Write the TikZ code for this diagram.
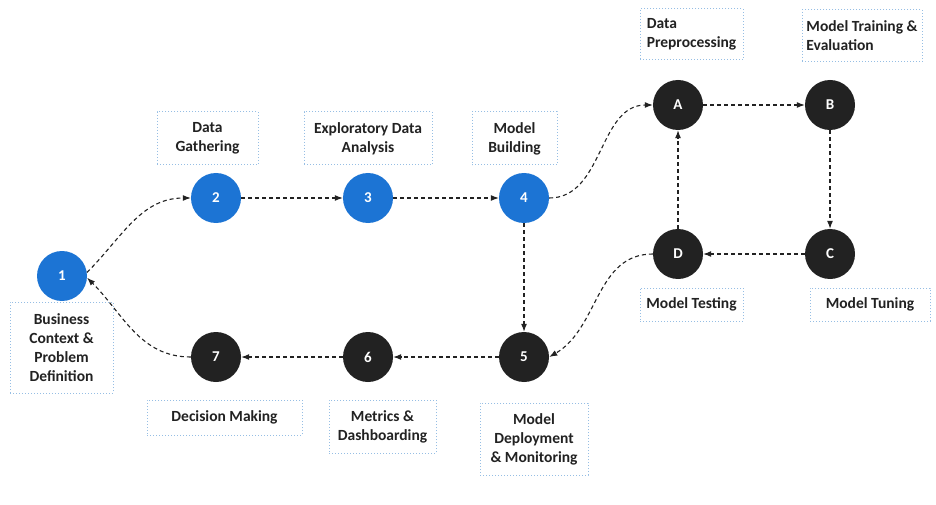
\documentclass[tikz,border=0pt]{standalone}
\usepackage{fontspec}
\setmainfont{Carlito}
\usetikzlibrary{arrows.meta}
\definecolor{stepblue}{RGB}{28,116,212}
\definecolor{stepdark}{RGB}{34,34,34}
\definecolor{boxline}{RGB}{150,190,228}
\tikzset{
  circ/.style={circle,minimum size=50pt,inner sep=0pt,text=white,font=\fontsize{15}{17}\selectfont\bfseries},
  bluec/.style={circ,fill=stepblue},
  darkc/.style={circ,fill=stepdark},
  lbl/.style={draw=boxline,line width=1pt,dash pattern=on 1pt off 2pt,inner sep=0pt,align=center,font=\fontsize{15.5}{19}\selectfont\bfseries,text=stepdark},
  conn/.style={draw=stepdark,line width=1.1pt,dash pattern=on 4pt off 3pt,-{Latex[length=8pt,width=6pt]}}
}
\begin{document}
\begin{tikzpicture}[x=1pt,y=1pt]
\useasboundingbox[fill=white] (0,0) rectangle (936,504);
% circles
\node[bluec] (n1) at (62,228) {1};
\node[bluec] (n2) at (216,306) {2};
\node[bluec] (n3) at (368,306) {3};
\node[bluec] (n4) at (524,306) {4};
\node[darkc] (n5) at (524,147) {5};
\node[darkc] (n6) at (368,147) {6};
\node[darkc] (n7) at (216,147) {7};
\node[darkc] (nA) at (678,399) {A};
\node[darkc] (nB) at (830,399) {B};
\node[darkc] (nC) at (830,250) {C};
\node[darkc] (nD) at (678,250) {D};
% labels
\node[lbl,minimum width=103pt,minimum height=91pt] (l1) at (61.5,156.5) {Business\\Context \&\\Problem\\Definition};
\node[lbl,minimum width=101pt,minimum height=53pt] (l2) at (207.5,365.5) {Data\\Gathering};
\node[lbl,minimum width=128pt,minimum height=53pt] (l3) at (368,365.5) {Exploratory Data\\Analysis};
\node[lbl,minimum width=85pt,minimum height=53pt] (l4) at (514.5,365.5) {Model\\Building};
\node[lbl,align=left,minimum width=103pt,minimum height=51pt] (lA) at (691.5,469.5) {Data\\Preprocessing};
\node[lbl,align=left,minimum width=120pt,minimum height=52pt] (lB) at (862,468) {Model Training \&\\Evaluation};
\node[lbl,minimum width=103pt,minimum height=33pt] (lD) at (691.5,199.5) {Model Testing};
\node[lbl,minimum width=120pt,minimum height=33pt] (lC) at (870,199.5) {Model Tuning};
\node[lbl,minimum width=155pt,minimum height=35pt] (l7) at (224.5,86.5) {Decision Making};
\node[lbl,minimum width=107pt,minimum height=53pt] (l6) at (382.5,77.5) {Metrics \&\\Dashboarding};
\node[lbl,minimum width=108pt,minimum height=72pt] (l5) at (534,65) {Model\\Deployment\\\& Monitoring};
% connectors
\draw[conn] (n1.8) to[out=45,in=180] (n2.west);
\draw[conn] (n2) -- (n3);
\draw[conn] (n3) -- (n4);
\draw[conn] (n4.east) to[out=0,in=180] (nA.west);
\draw[conn] (nA) -- (nB);
\draw[conn] (nB) -- (nC);
\draw[conn] (nC) -- (nD);
\draw[conn] (nD) -- (nA);
\draw[conn] (nD.west) to[out=180,in=30] (n5.east);
\draw[conn] (n4) -- (n5);
\draw[conn] (n5) -- (n6);
\draw[conn] (n6) -- (n7);
\draw[conn] (n7.west) to[out=180,in=-45] (n1.-4);
\end{tikzpicture}
\end{document}
